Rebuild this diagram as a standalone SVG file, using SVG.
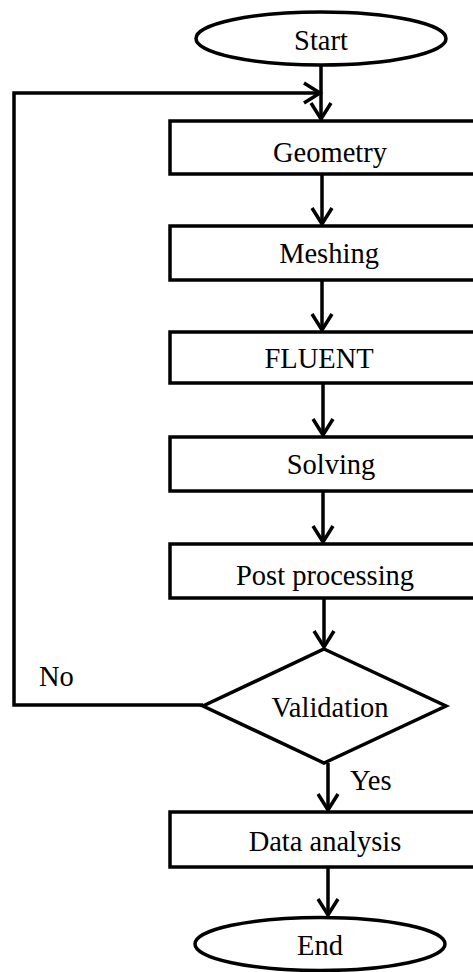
<svg xmlns="http://www.w3.org/2000/svg" width="473" height="972" viewBox="0 0 473 972">
<style>
.s{fill:#fff;stroke:#000;stroke-width:3.5}
.c{fill:none;stroke:#000;stroke-width:3.5}
text{font-family:"Liberation Serif","Times New Roman",serif;font-size:28.5px;fill:#000;text-anchor:middle}
</style>
<defs>
<marker id="ah" markerUnits="userSpaceOnUse" markerWidth="30" markerHeight="30" viewBox="-20 -15 30 30" refX="0" refY="0" orient="auto">
<path d="M-16,-10 L0,0 L-16,10" fill="none" stroke="#000" stroke-width="3.5" stroke-linejoin="miter"/>
</marker>
</defs>
<g id="connectors">
<line class="c" x1="321" y1="65" x2="321" y2="119" marker-end="url(#ah)"/>
<path class="c" d="M203,705 H14 V93 H320" marker-end="url(#ah)"/>
<line class="c" x1="322" y1="174" x2="322" y2="224" marker-end="url(#ah)"/>
<line class="c" x1="322" y1="280" x2="322" y2="330" marker-end="url(#ah)"/>
<line class="c" x1="323" y1="383" x2="323" y2="435" marker-end="url(#ah)"/>
<line class="c" x1="323" y1="491" x2="323" y2="542" marker-end="url(#ah)"/>
<line class="c" x1="324" y1="598" x2="324" y2="647" marker-end="url(#ah)"/>
<line class="c" x1="328" y1="763" x2="328" y2="810" marker-end="url(#ah)"/>
<line class="c" x1="328" y1="867" x2="328" y2="915" marker-end="url(#ah)"/>
<text x="39" y="686" style="text-anchor:start">No</text>
<text x="350" y="790" style="text-anchor:start">Yes</text>
</g>
<g id="start">
<ellipse class="s" cx="321" cy="38.5" rx="125" ry="26.5"/>
<text x="321" y="50">Start</text>
</g>
<g id="geometry">
<rect class="s" x="170" y="121" width="320" height="53"/>
<text x="330" y="162">Geometry</text>
</g>
<g id="meshing">
<rect class="s" x="170" y="226" width="320" height="54"/>
<text x="329" y="263">Meshing</text>
</g>
<g id="fluent">
<rect class="s" x="170" y="332" width="320" height="51"/>
<text x="319" y="368">FLUENT</text>
</g>
<g id="solving">
<rect class="s" x="170" y="437" width="320" height="54"/>
<text x="331" y="474">Solving</text>
</g>
<g id="post">
<rect class="s" x="170" y="544" width="320" height="54"/>
<text x="325" y="585">Post processing</text>
</g>
<g id="validation">
<polygon class="s" points="324,649 446,706 324,763 203,706"/>
<text x="330" y="717">Validation</text>
</g>
<g id="data">
<rect class="s" x="170" y="812" width="320" height="55"/>
<text x="325" y="851">Data analysis</text>
</g>
<g id="end">
<ellipse class="s" cx="320" cy="944" rx="125" ry="26.5"/>
<text x="320" y="955">End</text>
</g>
</svg>
